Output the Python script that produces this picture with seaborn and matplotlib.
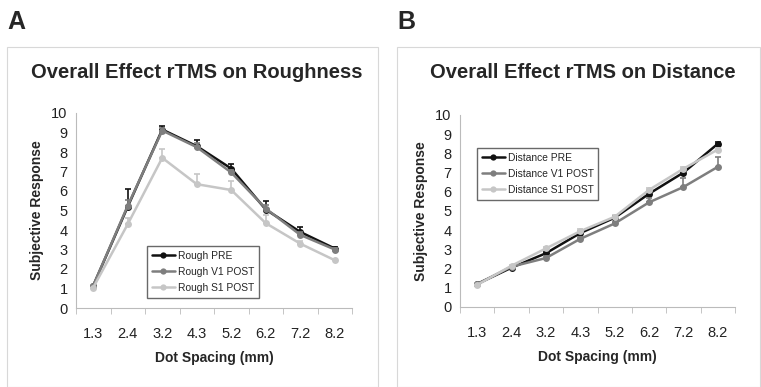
import numpy as np
import pandas as pd
import matplotlib
matplotlib.use("Agg")
import matplotlib.pyplot as plt
import seaborn as sns
from matplotlib.patches import Rectangle

sns.set_style("white")
plt.rcParams['font.family'] = ['Liberation Sans', 'DejaVu Sans']

spacing = ['1.3', '2.4', '3.2', '4.3', '5.2', '6.2', '7.2', '8.2']

# Roughness (panel A)
rough_pre = [1.15, 5.2, 9.15, 8.3, 7.15, 5.05, 3.9, 3.05]
rough_pre_err = [0.0, 0.9, 0.2, 0.3, 0.25, 0.45, 0.25, 0.1]
rough_v1 = [1.15, 5.25, 9.1, 8.25, 6.95, 5.1, 3.75, 3.0]
rough_v1_err = [0.0, 0.3, 0.15, 0.2, 0.15, 0.2, 0.15, 0.08]
rough_s1 = [1.05, 4.3, 7.7, 6.35, 6.05, 4.35, 3.3, 2.45]
rough_s1_err = [0.0, 0.3, 0.45, 0.5, 0.45, 0.4, 0.15, 0.08]

# Distance (panel B)
dist_pre = [1.2, 2.05, 2.8, 3.85, 4.65, 5.9, 7.0, 8.5]
dist_pre_err = [0.0, 0.05, 0.1, 0.1, 0.1, 0.15, 0.15, 0.08]
dist_v1 = [1.2, 2.1, 2.55, 3.55, 4.35, 5.45, 6.25, 7.3]
dist_v1_err = [0.0, 0.05, 0.1, 0.1, 0.1, 0.25, 0.45, 0.5]
dist_s1 = [1.15, 2.15, 3.05, 3.95, 4.7, 6.1, 7.2, 8.2]
dist_s1_err = [0.0, 0.05, 0.1, 0.1, 0.1, 0.1, 0.1, 0.1]

colors = ['#111111', '#7e7e7e', '#c6c6c6']

W, H = 761, 387
fig = plt.figure(figsize=(W / 100, H / 100), dpi=100)

# panel frames
for x0, x1 in [(7, 378), (397, 760)]:
    fig.patches.append(Rectangle((x0 / W, 0), (x1 - x0) / W, (H - 47) / H,
                                 transform=fig.transFigure, fill=False,
                                 edgecolor='#d8d8d8', linewidth=0.8))

fig.text(7 / W, 1 - 22 / H, 'A', fontsize=18, fontweight='bold', va='center', ha='left')
fig.text(397 / W, 1 - 22 / H, 'B', fontsize=18, fontweight='bold', va='center', ha='left')


def panel(left, right, top, bottom, names, vals, errs, title, title_x, leg_anchor):
    ax = fig.add_axes([left / W, 1 - bottom / H, (right - left) / W, (bottom - top) / H])
    rows = []
    for name, v in zip(names, vals):
        for i, y in enumerate(v):
            rows.append({'pos': i, 'val': y, 'series': name})
    df = pd.DataFrame(rows)
    # PRE drawn first, S1 POST last (on top), as in the original
    for k, (name, v, e, c) in enumerate(zip(names, vals, errs, colors)):
        x = np.arange(len(v))
        ax.errorbar(x, v, yerr=[np.zeros(len(e)), e], fmt='none', ecolor=c,
                    elinewidth=1.2, capsize=2.5, capthick=1.2, zorder=2 + 2 * k)
        sns.lineplot(data=df[df['series'] == name], x='pos', y='val', color=c,
                     marker='o', markersize=5, markeredgewidth=0,
                     linewidth=1.8, ax=ax, zorder=3 + 2 * k, legend=False)
    ax.set_xlim(-0.5, 7.5)
    ax.set_ylim(0, 10)
    ax.set_yticks(range(0, 11))
    ax.set_yticklabels([str(i) for i in range(11)], fontsize=10.5, color='#222222')
    ax.set_xticks(np.arange(8))
    ax.set_xticklabels(spacing, fontsize=10.5, color='#222222')
    ax.set_xticks(np.arange(-0.5, 8, 1), minor=True)
    ax.tick_params(axis='x', which='major', length=0, pad=14)
    ax.tick_params(axis='x', which='minor', length=4, color='#bbbbbb', direction='out')
    ax.tick_params(axis='y', length=4, color='#bbbbbb', direction='out', pad=2)
    ax.tick_params(axis='x', which='both', bottom=True)
    for s in ['top', 'right']:
        ax.spines[s].set_visible(False)
    for s in ['left', 'bottom']:
        ax.spines[s].set_color('#bbbbbb')
        ax.spines[s].set_linewidth(0.8)
    ax.set_xlabel('Dot Spacing (mm)', fontsize=10, fontweight='bold', labelpad=7)
    ax.set_ylabel('Subjective Response', fontsize=10, fontweight='bold', labelpad=5)
    fig.text(title_x / W, 1 - 73 / H, title, fontsize=14.5, fontweight='bold',
             ha='center', va='center')
    handles = [plt.Line2D([0], [0], color=c, marker='o', markersize=4.5,
                          markeredgewidth=0, linewidth=1.8, label=n)
               for n, c in zip(names, colors)]
    leg = ax.legend(handles=handles, loc='upper left', bbox_to_anchor=leg_anchor,
                    bbox_transform=fig.transFigure, fontsize=7.4, frameon=True,
                    fancybox=False, handlelength=2.3, handletextpad=0.25,
                    borderpad=0.45, labelspacing=0.6, borderaxespad=0)
    leg.get_frame().set_edgecolor('#444444')
    leg.get_frame().set_linewidth(1.0)
    return ax


panel(76, 352, 113, 308, ['Rough PRE', 'Rough V1 POST', 'Rough S1 POST'],
      [rough_pre, rough_v1, rough_s1], [rough_pre_err, rough_v1_err, rough_s1_err],
      'Overall Effect rTMS on Roughness', 197, (147 / W, 1 - 246 / H))

panel(460, 735, 115, 307, ['Distance PRE', 'Distance V1 POST', 'Distance S1 POST'],
      [dist_pre, dist_v1, dist_s1], [dist_pre_err, dist_v1_err, dist_s1_err],
      'Overall Effect rTMS on Distance', 583, (477 / W, 1 - 148 / H))

fig.savefig('out.png', dpi=100)
